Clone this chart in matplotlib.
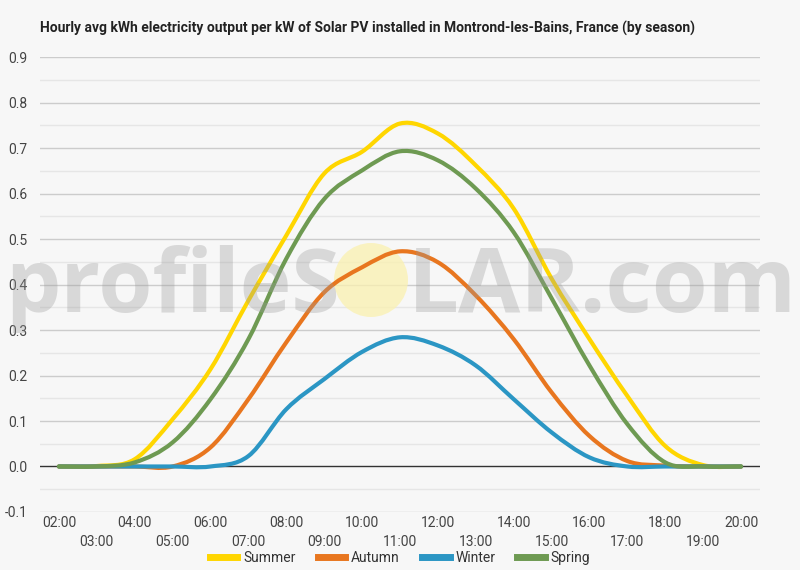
import matplotlib
matplotlib.use("Agg")
import matplotlib.pyplot as plt
from matplotlib.path import Path
from matplotlib.patches import PathPatch, Ellipse
from matplotlib.lines import Line2D
import numpy as np

hours = ['02:00', '03:00', '04:00', '05:00', '06:00', '07:00', '08:00', '09:00', '10:00',
         '11:00', '12:00', '13:00', '14:00', '15:00', '16:00', '17:00', '18:00', '19:00', '20:00']
hour_values = [2, 3, 4, 5, 6, 7, 8, 9, 10, 11, 12, 13, 14, 15, 16, 17, 18, 19, 20]

summer = [0.0, 0.001, 0.016, 0.104, 0.214, 0.365, 0.508, 0.644, 0.692, 0.754,
          0.732, 0.662, 0.567, 0.413, 0.280, 0.155, 0.045, 0.003, 0.0]
autumn = [0.0, 0.0, 0.0, 0.0, 0.042, 0.148, 0.273, 0.383, 0.438, 0.473,
          0.449, 0.376, 0.280, 0.163, 0.067, 0.012, 0.002, 0.0, 0.0]
winter = [0.0, 0.0, 0.0, 0.0, 0.0, 0.023, 0.126, 0.192, 0.252, 0.284,
          0.266, 0.222, 0.148, 0.075, 0.020, 0.0, 0.0, 0.0, 0.0]
spring = [0.0, 0.0, 0.009, 0.053, 0.148, 0.280, 0.457, 0.588, 0.651, 0.693,
          0.673, 0.611, 0.515, 0.370, 0.222, 0.093, 0.009, 0.0, 0.0]

series_names = ['Summer', 'Autumn', 'Winter', 'Spring']
series_data = [summer, autumn, winter, spring]
series_colors = ['#FFD600', '#E8761F', '#2B96C4', '#6E9A52']

title = 'Hourly avg kWh electricity output per kW of Solar PV installed in Montrond-les-Bains, France (by season)'

plt.rcParams['font.family'] = ['Roboto', 'DejaVu Sans']

BG = '#F7F7F7'
fig = plt.figure(figsize=(8, 5.7), dpi=100, facecolor=BG)
ax = fig.add_axes([0.05, 0.1018, 0.9, 0.798])
ax.set_facecolor(BG)


def smooth_path(xs, ys):
    pts = np.column_stack([xs, ys]).astype(float)
    n = len(pts)
    verts = [pts[0]]
    codes = [Path.MOVETO]
    for i in range(n - 1):
        p0 = pts[i - 1] if i > 0 else pts[i]
        p1 = pts[i]
        p2 = pts[i + 1]
        p3 = pts[i + 2] if i + 2 < n else pts[i + 1]
        c1 = p1 + (p2 - p0) / 6.0
        c2 = p2 - (p3 - p1) / 6.0
        verts += [c1, c2, p2]
        codes += [Path.CURVE4] * 3
    return Path(verts, codes)


for name, data, color in zip(series_names, series_data, series_colors):
    patch = PathPatch(smooth_path(hour_values, data), facecolor='none', edgecolor=color,
                      lw=3.0, capstyle='round', joinstyle='round', zorder=3)
    ax.add_patch(patch)

ax.set_xlim(1.5, 20.5)
ax.set_ylim(-0.1, 0.9)

# grid
for v in np.arange(-0.1, 0.91, 0.1):
    if abs(v) < 1e-9:
        continue
    ax.axhline(v, color='#CCCCCC', lw=1.0, zorder=1)
for v in np.arange(-0.05, 0.9, 0.1):
    ax.axhline(v, color='#E6E6E6', lw=1.0, zorder=1)
ax.axhline(0, color='#333333', lw=1.0, zorder=2)

for s in ax.spines.values():
    s.set_visible(False)

yt = np.round(np.arange(-0.1, 0.91, 0.1), 1)
ax.set_yticks(yt)
ax.set_yticklabels([f'{v:.1f}' for v in yt])
ax.tick_params(axis='y', length=0, pad=9, labelsize=10, labelcolor='#444444')

ax.set_xticks(hour_values[0::2])
ax.set_xticklabels(hours[0::2])
ax.set_xticks(hour_values[1::2], minor=True)
ax.set_xticklabels(hours[1::2], minor=True)
ax.tick_params(axis='x', which='major', length=0, pad=3, labelsize=10, labelcolor='#444444')
ax.tick_params(axis='x', which='minor', length=0, pad=16.5, labelsize=10, labelcolor='#444444')

# title
fig.text(40 / 800, 1 - 28 / 570, title, ha='left', va='center', fontsize=10.0,
         fontweight='bold', color='#222222')

# watermark
fig.text(5 / 800, 1 - 312 / 570, 'profileS', ha='left', va='baseline', fontsize=63,
         family='Open Sans', fontweight='bold', color='#9A9A9A', alpha=0.33, zorder=10)
fig.text(408 / 800, 1 - 312 / 570, 'LAR.com', ha='left', va='baseline', fontsize=65,
         family='Open Sans', fontweight='bold', color='#9A9A9A', alpha=0.33, zorder=10)
sun = Ellipse((371 / 800, 1 - 280 / 570), 74 / 800, 74 / 570, transform=fig.transFigure,
              facecolor='#FBF1B0', edgecolor='none', alpha=0.75, zorder=2.5, clip_on=False)
ax.add_patch(sun)

# legend
handles = [Line2D([], [], color=c, lw=5) for c in series_colors]
fig.legend(handles, series_names, loc='center', bbox_to_anchor=(0.5, 12 / 570), ncol=4,
           frameon=False, fontsize=10, handlelength=2.0, handletextpad=0.4,
           columnspacing=1.6, labelcolor='#333333')

fig.savefig('out.png', dpi=100, facecolor=BG)
